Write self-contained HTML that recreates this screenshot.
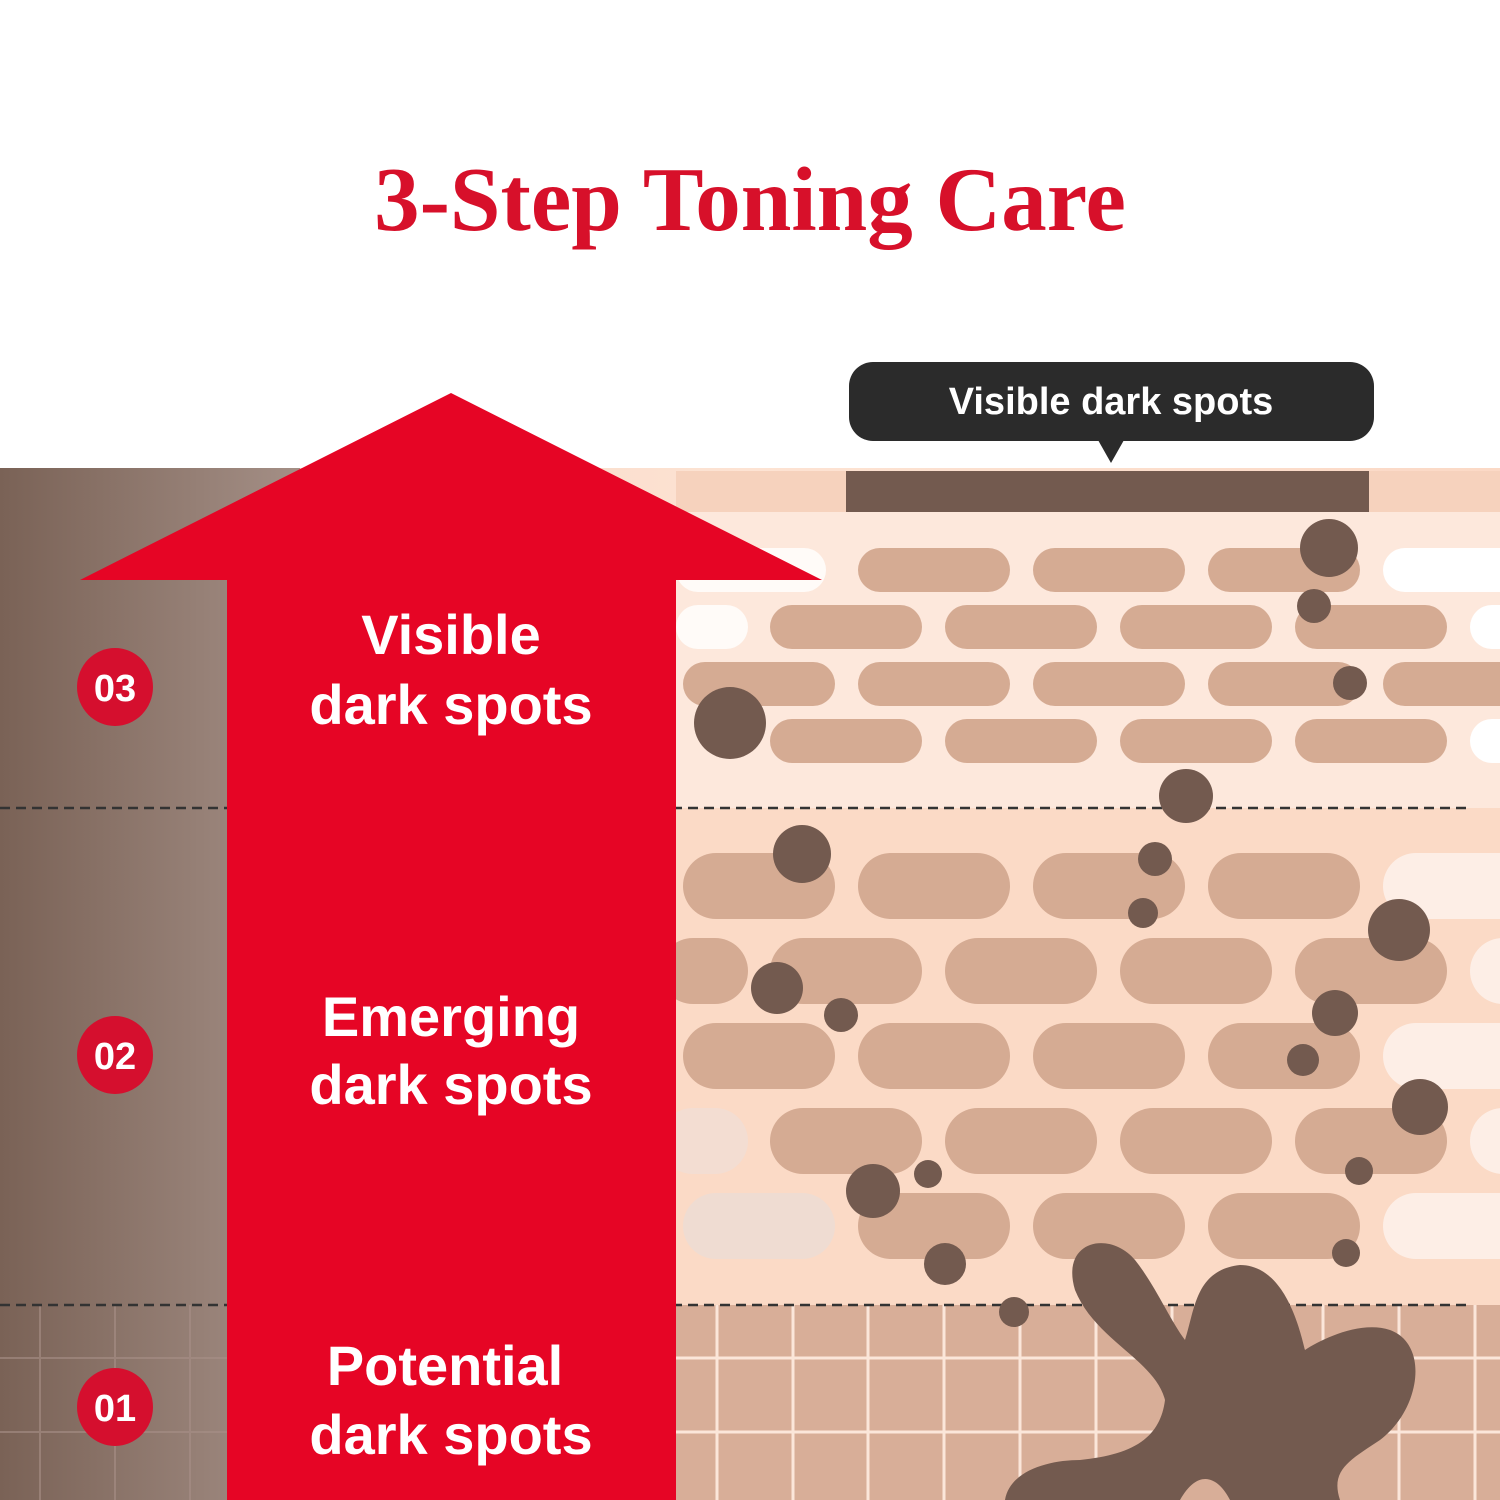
<!DOCTYPE html>
<html><head><style>
body{margin:0;width:1500px;height:1500px;background:#fff;overflow:hidden;position:relative;font-family:"Liberation Sans",sans-serif}
</style></head><body>
<svg width="1500" height="1500" viewBox="0 0 1500 1500" xmlns="http://www.w3.org/2000/svg" style="position:absolute;left:0;top:0">
<defs>
<linearGradient id="lg" x1="0" x2="1" y1="0" y2="0"><stop offset="0" stop-color="#7a6256"/><stop offset="1" stop-color="#a48f86"/></linearGradient>
<linearGradient id="rg" x1="0" x2="1"><stop offset="0" stop-color="#f3d0bd"/><stop offset="0.5" stop-color="#fde3d3"/><stop offset="1" stop-color="#fbd9c6"/></linearGradient>
</defs>
<rect x="0" y="468" width="1500" height="1032" fill="url(#rg)"/>
<rect x="0" y="468" width="300" height="1032" fill="url(#lg)"/>
<rect x="676" y="512" width="824" height="296" fill="#fde8dc"/>
<rect x="676" y="808" width="824" height="497" fill="#fbdac6"/>
<rect x="676" y="1305" width="824" height="195" fill="#d8ae98"/>
<g stroke="#fbe6da" stroke-width="3">
<line x1="717" y1="1305" x2="717" y2="1500"/><line x1="793" y1="1305" x2="793" y2="1500"/><line x1="868" y1="1305" x2="868" y2="1500"/><line x1="944" y1="1305" x2="944" y2="1500"/><line x1="1020" y1="1305" x2="1020" y2="1500"/><line x1="1096" y1="1305" x2="1096" y2="1500"/><line x1="1172" y1="1305" x2="1172" y2="1500"/><line x1="1248" y1="1305" x2="1248" y2="1500"/><line x1="1323" y1="1305" x2="1323" y2="1500"/><line x1="1399" y1="1305" x2="1399" y2="1500"/><line x1="1475" y1="1305" x2="1475" y2="1500"/>
<line x1="676" y1="1358" x2="1500" y2="1358"/><line x1="676" y1="1432" x2="1500" y2="1432"/>
</g>
<g stroke="#a89088" stroke-width="2" opacity="0.6">
<line x1="40" y1="1305" x2="40" y2="1500"/><line x1="115" y1="1305" x2="115" y2="1500"/><line x1="190" y1="1305" x2="190" y2="1500"/>
<line x1="0" y1="1358" x2="227" y2="1358"/><line x1="0" y1="1432" x2="227" y2="1432"/>
</g>
<rect x="676" y="471" width="824" height="41" fill="#f6d2bd"/>
<rect x="846" y="471" width="523" height="41" fill="#735a4f"/>
<g fill="#d5ab93">
<rect x="858" y="548" width="152" height="44" rx="22"/><rect x="1033" y="548" width="152" height="44" rx="22"/><rect x="1208" y="548" width="152" height="44" rx="22"/>
<rect x="770" y="605" width="152" height="44" rx="22"/><rect x="945" y="605" width="152" height="44" rx="22"/><rect x="1120" y="605" width="152" height="44" rx="22"/><rect x="1295" y="605" width="152" height="44" rx="22"/>
<rect x="683" y="662" width="152" height="44" rx="22"/><rect x="858" y="662" width="152" height="44" rx="22"/><rect x="1033" y="662" width="152" height="44" rx="22"/><rect x="1208" y="662" width="152" height="44" rx="22"/><rect x="1383" y="662" width="152" height="44" rx="22"/>
<rect x="770" y="719" width="152" height="44" rx="22"/><rect x="945" y="719" width="152" height="44" rx="22"/><rect x="1120" y="719" width="152" height="44" rx="22"/><rect x="1295" y="719" width="152" height="44" rx="22"/>
</g>
<g fill="#ffffff">
<rect x="1383" y="548" width="152" height="44" rx="22"/><rect x="1470" y="605" width="152" height="44" rx="22"/><rect x="1470" y="719" width="152" height="44" rx="22"/>
<rect x="676" y="548" width="150" height="44" rx="22" opacity="0.8"/><rect x="676" y="605" width="72" height="44" rx="22" opacity="0.8"/>
</g>
<g fill="#d5ab93">
<rect x="683" y="853" width="152" height="66" rx="33"/><rect x="858" y="853" width="152" height="66" rx="33"/><rect x="1033" y="853" width="152" height="66" rx="33"/><rect x="1208" y="853" width="152" height="66" rx="33"/>
<rect x="660" y="938" width="88" height="66" rx="33"/><rect x="770" y="938" width="152" height="66" rx="33"/><rect x="945" y="938" width="152" height="66" rx="33"/><rect x="1120" y="938" width="152" height="66" rx="33"/><rect x="1295" y="938" width="152" height="66" rx="33"/>
<rect x="683" y="1023" width="152" height="66" rx="33"/><rect x="858" y="1023" width="152" height="66" rx="33"/><rect x="1033" y="1023" width="152" height="66" rx="33"/><rect x="1208" y="1023" width="152" height="66" rx="33"/>
<rect x="770" y="1108" width="152" height="66" rx="33"/><rect x="945" y="1108" width="152" height="66" rx="33"/><rect x="1120" y="1108" width="152" height="66" rx="33"/><rect x="1295" y="1108" width="152" height="66" rx="33"/>
<rect x="858" y="1193" width="152" height="66" rx="33"/><rect x="1033" y="1193" width="152" height="66" rx="33"/><rect x="1208" y="1193" width="152" height="66" rx="33"/>
</g>
<g fill="#fdeee6">
<rect x="1383" y="853" width="152" height="66" rx="33"/><rect x="1470" y="938" width="152" height="66" rx="33"/><rect x="1383" y="1023" width="152" height="66" rx="33"/><rect x="1470" y="1108" width="152" height="66" rx="33"/><rect x="1383" y="1193" width="152" height="66" rx="33"/>
<rect x="660" y="1108" width="88" height="66" rx="33" fill="#f3ddd2"/><rect x="683" y="1193" width="152" height="66" rx="33" fill="#efdcd2"/>
</g>
<g stroke="#333" stroke-width="2.5" stroke-dasharray="10 6">
<line x1="0" y1="808" x2="1470" y2="808"/><line x1="0" y1="1305" x2="1470" y2="1305"/>
</g>
<g fill="#735a4f">
<circle cx="1329" cy="548" r="29"/><circle cx="1314" cy="606" r="17"/><circle cx="1350" cy="683" r="17"/><circle cx="730" cy="723" r="36"/>
<circle cx="1186" cy="796" r="27"/><circle cx="802" cy="854" r="29"/><circle cx="1155" cy="859" r="17"/><circle cx="1143" cy="913" r="15"/>
<circle cx="1399" cy="930" r="31"/><circle cx="777" cy="988" r="26"/><circle cx="841" cy="1015" r="17"/><circle cx="1335" cy="1013" r="23"/>
<circle cx="1303" cy="1060" r="16"/><circle cx="1420" cy="1107" r="28"/><circle cx="873" cy="1191" r="27"/><circle cx="928" cy="1174" r="14"/>
<circle cx="1359" cy="1171" r="14"/><circle cx="945" cy="1264" r="21"/><circle cx="1346" cy="1253" r="14"/><circle cx="1014" cy="1312" r="15"/>
<path d="M1075,1290 C1060,1240 1110,1230 1135,1260 C1155,1285 1170,1320 1185,1340 C1195,1310 1195,1270 1240,1265 C1285,1265 1300,1330 1305,1350 C1320,1340 1360,1320 1390,1330 C1430,1345 1420,1410 1380,1440 C1350,1460 1330,1470 1340,1500 L1230,1500 C1220,1480 1200,1465 1180,1500 L1005,1500 C1010,1470 1050,1460 1080,1460 C1130,1455 1160,1440 1165,1400 C1155,1360 1095,1340 1075,1290 Z"/>
</g>
<polygon points="451,393 822,580 676,580 676,1500 227,1500 227,580 80,580" fill="#e60525"/>
<g fill="#d50f2e">
<ellipse cx="115" cy="687" rx="38" ry="39"/><ellipse cx="115" cy="1055" rx="38" ry="39"/><ellipse cx="115" cy="1407" rx="38" ry="39"/>
</g>
<g fill="#fff" font-family="Liberation Sans, sans-serif" font-weight="bold" text-anchor="middle">
<text x="115" y="701" font-size="38">03</text><text x="115" y="1069" font-size="38">02</text><text x="115" y="1421" font-size="38">01</text>
<g font-size="56">
<text x="451" y="654">Visible</text><text x="451" y="724">dark spots</text>
<text x="451" y="1036">Emerging</text><text x="451" y="1104">dark spots</text>
<text x="445" y="1385">Potential</text><text x="451" y="1454">dark spots</text>
</g>
</g>
<rect x="849" y="362" width="525" height="79" rx="24" fill="#2b2b2b"/>
<polygon points="1098,440 1124,440 1111,463" fill="#2b2b2b"/>
<text x="1111" y="414" fill="#fff" font-size="38" font-weight="bold" text-anchor="middle" font-family="Liberation Sans, sans-serif">Visible dark spots</text>
<text x="750" y="230" fill="#d7102a" font-size="91" font-weight="bold" text-anchor="middle" font-family="Liberation Serif, serif">3-Step Toning Care</text>
</svg>
</body></html>
